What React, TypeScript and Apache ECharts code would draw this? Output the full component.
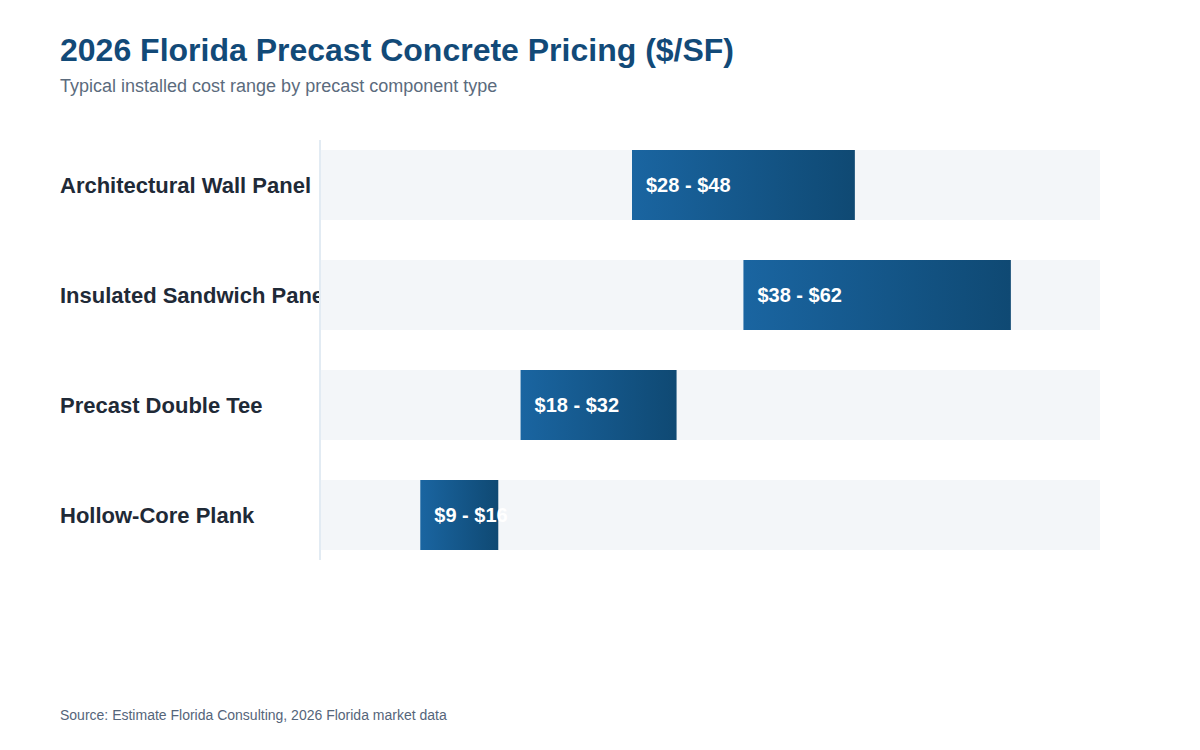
import React, { useEffect, useRef } from "react";
import * as echarts from "echarts";

const categories = [
  "Architectural Wall Panel",
  "Insulated Sandwich Panel",
  "Precast Double Tee",
  "Hollow-Core Plank",
];
const lowValues = [28, 38, 18, 9];
const highValues = [48, 62, 32, 16];
const axisMax = 70;

export default function App() {
  const ref = useRef<HTMLDivElement>(null);
  useEffect(() => {
    if (!ref.current) return;
    const chart = echarts.init(ref.current, null, { renderer: "svg" });
    const font = "'Liberation Sans', Arial, Helvetica, sans-serif";
    chart.setOption({
      animation: false,
      textStyle: { fontFamily: font },
      title: [
        {
          text: "2026 Florida Precast Concrete Pricing ($/SF)",
          left: 55,
          top: 29,
          textStyle: { fontFamily: font, fontSize: 32, fontWeight: "bold", color: "#124a78" },
        },
        {
          text: "Typical installed cost range by precast component type",
          left: 55,
          top: 72,
          textStyle: { fontFamily: font, fontSize: 18, fontWeight: "normal", color: "#5b6b7d" },
        },
        {
          text: "Source: Estimate Florida Consulting, 2026 Florida market data",
          left: 55,
          top: 703,
          textStyle: { fontFamily: font, fontSize: 14, fontWeight: "normal", color: "#55657a" },
        },
      ],
      grid: { left: 320, right: 100, top: 130, height: 440 },
      xAxis: {
        type: "value",
        min: 0,
        max: axisMax,
        show: false,
      },
      yAxis: {
        type: "category",
        inverse: true,
        data: categories,
        axisLine: { show: false },
        axisTick: { show: false },
        splitLine: { show: false },
        axisLabel: {
          align: "left",
          margin: 260,
          fontFamily: font,
          fontSize: 22,
          fontWeight: "bold",
          color: "#1f2a37",
        },
      },
      graphic: [
        {
          type: "line",
          z: 100,
          shape: { x1: 320, y1: 140, x2: 320, y2: 560 },
          style: { stroke: "#e2ebf3", lineWidth: 2 },
        },
      ],
      series: [
        {
          type: "bar",
          data: categories.map(() => axisMax),
          barWidth: 70,
          barGap: "-100%",
          itemStyle: { color: "#f3f6f9" },
          silent: true,
          z: 2,
        },
        {
          type: "bar",
          stack: "range",
          data: lowValues,
          barWidth: 70,
          itemStyle: { color: "transparent" },
          silent: true,
          z: 3,
        },
        {
          type: "bar",
          stack: "range",
          data: highValues.map((h, i) => h - lowValues[i]),
          barWidth: 70,
          z: 4,
          itemStyle: {
            color: new echarts.graphic.LinearGradient(0, 0, 1, 0, [
              { offset: 0, color: "#1a65a1" },
              { offset: 1, color: "#0f4973" },
            ]),
          },
          label: {
            show: true,
            position: "insideLeft",
            distance: 14,
            formatter: (p: any) => `$${lowValues[p.dataIndex]} - $${highValues[p.dataIndex]}`,
            color: "#ffffff",
            fontFamily: font,
            fontSize: 20,
            fontWeight: "bold",
          },
        },
      ],
    });
    return () => chart.dispose();
  }, []);
  return (
    <div
      ref={ref}
      style={{ position: "fixed", left: 0, top: 0, width: 1200, height: 750, background: "#ffffff" }}
    />
  );
}
